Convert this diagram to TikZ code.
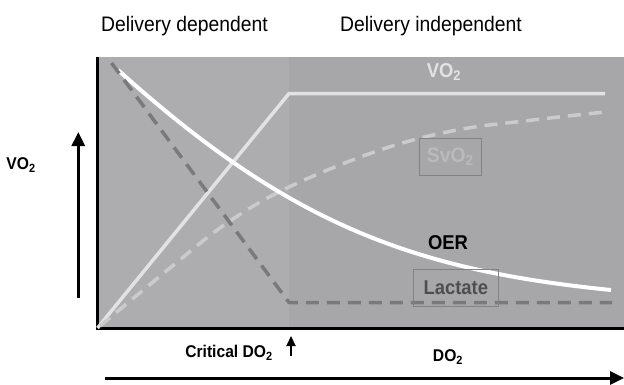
\documentclass[tikz,border=0pt]{standalone}
\usepackage{fontspec}
\setmainfont{Liberation Sans}[FakeStretch=0.92]
\usetikzlibrary{positioning,arrows.meta}
\definecolor{zonedep}{RGB}{173,173,175}
\definecolor{zoneind}{RGB}{167,167,169}
\definecolor{vocurve}{RGB}{226,226,226}
\definecolor{svcurve}{RGB}{203,203,203}
\definecolor{laccurve}{RGB}{122,122,122}
\definecolor{svtext}{RGB}{186,186,186}
\definecolor{lactext}{RGB}{78,78,78}
\definecolor{tagline}{RGB}{130,130,130}

\begin{document}
\begin{tikzpicture}[
      x=1pt, y=-1pt,
      axis/.style={line width=3pt, black},
      arrow/.style={-{Triangle[length=14pt, width=13pt]}, line width=3pt},
      small arrow/.style={-{Triangle[length=10pt, width=9pt]}, line width=2.2pt},
      curve/.style={line width=3.5pt, line join=round},
      dashcurve/.style={curve, dash pattern=on 13pt off 8pt},
      title/.style={font=\fontsize{21}{25}\selectfont, anchor=base west, inner sep=0pt},
      lab/.style={font=\bfseries\fontsize{17}{20}\selectfont},
      tag/.style={draw=tagline, line width=0.8pt, inner sep=0pt}
    ]

    \useasboundingbox (0,0) rectangle (624,384);

    % two zones of the plot
    \fill[zonedep] (97,57) rectangle (289,328);
    \fill[zoneind] (289,57) rectangle (624,328);

    \coordinate (origin) at (97.5,328);
    \coordinate (ytop) at (97.5,57);
    \coordinate (xend) at (624,328);
    \draw[axis] (ytop) -- (origin) -- (xend);

    % curves
    \coordinate (crit) at (289,93.5);
    \coordinate (voend) at (605,93.5);
    \draw[curve, vocurve] (origin) -- (crit) -- (voend);

    \draw[dashcurve, svcurve] plot[smooth, tension=0.6] coordinates {
      (100,326) (170,268) (227,223) (289,187) (380,150) (457,130) (533,120) (605,112)};

    \coordinate (oerstart) at (118,70);
    \coordinate (oerend) at (611,290);
    \draw[curve, white, line width=4pt] (oerstart) .. controls (288,223) and (411,270) .. (oerend);

    \coordinate (lacstart) at (111.5,63);
    \coordinate (lackink) at (289,302.5);
    \coordinate (lacend) at (612,302.5);
    \draw[dashcurve, laccurve] (lacstart) -- (lackink) -- (lacend);

    % labels in the plot
    \node[lab, text=vocurve, font=\bfseries\fontsize{20}{24}\selectfont] (volab) at (444,72) {VO\textsubscript{2}};
    \node[tag, minimum width=62pt, minimum height=37pt, text=svtext, font=\bfseries\fontsize{21}{24}\selectfont] (svlab) at (450.3,156.7) {SvO\textsubscript{2}};
    \node[lab, text=black, font=\bfseries\fontsize{20}{24}\selectfont] (oerlab) at (448,243) {OER};
    \node[tag, minimum width=85pt, minimum height=37pt, text=lactext, font=\bfseries\fontsize{20}{24}\selectfont] (laclab) at (455.8,287.7) {Lactate};

    % titles
    \node[title] (deptitle) at (101,31) {Delivery dependent};
    \node[title] (indtitle) at (340,31) {Delivery independent};

    % axes outside the plot
    \node[lab] (yname) at (21,165) {VO\textsubscript{2}};
    \coordinate (ybot) at (78.3,298);
    \coordinate (yarrow) at (78.3,132);
    \draw[arrow] (ybot) -- (yarrow);

    \node[lab] (critlab) at (229,353) {Critical DO\textsubscript{2}};
    \coordinate (critbot) at (291,356);
    \coordinate (crittop) at (291,336);
    \draw[small arrow] (critbot) -- (crittop);

    \node[lab] (xname) at (448,357) {DO\textsubscript{2}};
    \coordinate (xstart) at (105,378);
    \coordinate (xarrow) at (624,378);
    \draw[arrow] (xstart) -- (xarrow);
\end{tikzpicture}
\end{document}
